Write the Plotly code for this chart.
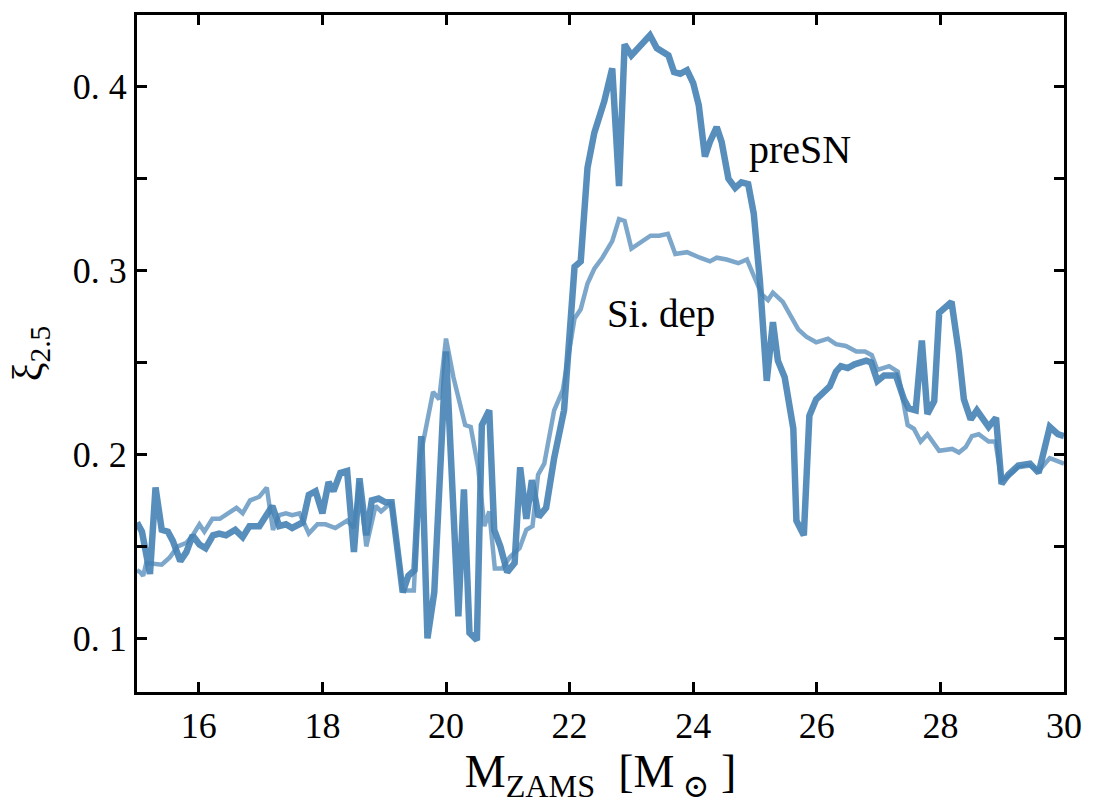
import plotly.graph_objects as go

# Compactness xi_2.5 versus ZAMS mass, at Si depletion and pre-supernova
mass_presn = [15.00, 15.08, 15.21, 15.30, 15.40, 15.50, 15.58, 15.70, 15.80, 15.90,
              16.01, 16.11, 16.23, 16.33, 16.44, 16.59, 16.71, 16.82, 16.98, 17.09,
              17.19, 17.30, 17.41, 17.51, 17.68, 17.78, 17.89, 18.00, 18.10, 18.18,
              18.29, 18.40, 18.51, 18.60, 18.71, 18.80, 18.91, 19.02, 19.12, 19.30,
              19.39, 19.49, 19.60, 19.70, 19.81, 20.00, 20.20, 20.29, 20.38, 20.50,
              20.58, 20.70, 20.78, 20.88, 20.99, 21.11, 21.20, 21.30, 21.39, 21.50,
              21.62, 21.75, 21.91, 22.08, 22.18, 22.29, 22.40, 22.56, 22.69, 22.80,
              22.89, 23.00, 23.20, 23.30, 23.41, 23.60, 23.69, 23.79, 23.90, 24.00,
              24.09, 24.19, 24.27, 24.38, 24.46, 24.57, 24.68, 24.78, 24.89, 24.98,
              25.08, 25.19, 25.29, 25.37, 25.48, 25.62, 25.67, 25.79, 25.88, 25.99,
              26.21, 26.31, 26.39, 26.50, 26.61, 26.80, 26.88, 26.98, 27.09, 27.28,
              27.41, 27.49, 27.60, 27.70, 27.79, 27.90, 27.98, 28.18, 28.30, 28.38,
              28.49, 28.59, 28.78, 28.90, 28.99, 29.10, 29.26, 29.45, 29.59, 29.77,
              29.90, 30.00]
xi_presn = [0.163, 0.158, 0.135, 0.182, 0.159, 0.158, 0.153, 0.142, 0.147, 0.156,
            0.151, 0.149, 0.156, 0.157, 0.156, 0.159, 0.155, 0.161, 0.161, 0.166,
            0.172, 0.161, 0.162, 0.160, 0.163, 0.178, 0.180, 0.168, 0.185, 0.180,
            0.190, 0.191, 0.147, 0.187, 0.156, 0.175, 0.176, 0.174, 0.174, 0.125,
            0.134, 0.137, 0.210, 0.100, 0.125, 0.256, 0.112, 0.181, 0.103, 0.099,
            0.216, 0.224, 0.159, 0.150, 0.136, 0.141, 0.193, 0.165, 0.186, 0.166,
            0.171, 0.198, 0.224, 0.302, 0.305, 0.356, 0.375, 0.392, 0.410, 0.346,
            0.423, 0.417, 0.424, 0.428, 0.421, 0.417, 0.408, 0.407, 0.409, 0.402,
            0.390, 0.362, 0.370, 0.378, 0.370, 0.350, 0.345, 0.348, 0.347, 0.331,
            0.294, 0.240, 0.272, 0.251, 0.242, 0.214, 0.164, 0.156, 0.221, 0.230,
            0.237, 0.245, 0.248, 0.247, 0.249, 0.251, 0.250, 0.240, 0.243, 0.243,
            0.230, 0.225, 0.224, 0.262, 0.222, 0.229, 0.277, 0.283, 0.255, 0.230,
            0.219, 0.224, 0.215, 0.220, 0.184, 0.189, 0.194, 0.195, 0.190, 0.215,
            0.211, 0.210]

mass_sidep = [15.00, 15.05, 15.10, 15.15, 15.40, 15.53, 15.66, 15.80, 15.90, 16.01,
              16.09, 16.22, 16.34, 16.50, 16.61, 16.71, 16.83, 16.98, 17.10, 17.20,
              17.30, 17.41, 17.51, 17.63, 17.78, 17.92, 18.05, 18.21, 18.40, 18.51,
              18.60, 18.71, 18.86, 18.95, 19.05, 19.12, 19.30, 19.48, 19.58, 19.79,
              19.89, 20.00, 20.12, 20.31, 20.40, 20.52, 20.62, 20.70, 20.79, 20.91,
              21.03, 21.19, 21.30, 21.40, 21.49, 21.59, 21.75, 21.89, 22.08, 22.18,
              22.29, 22.40, 22.53, 22.69, 22.80, 22.89, 23.00, 23.18, 23.31, 23.45,
              23.59, 23.71, 23.90, 24.11, 24.27, 24.38, 24.54, 24.73, 24.87, 24.97,
              25.11, 25.21, 25.29, 25.45, 25.56, 25.70, 25.83, 25.99, 26.18, 26.31,
              26.47, 26.64, 26.78, 26.89, 26.98, 27.17, 27.31, 27.47, 27.57, 27.68,
              27.79, 27.98, 28.19, 28.30, 28.41, 28.51, 28.62, 28.78, 28.89, 28.99,
              29.10, 29.26, 29.45, 29.59, 29.77, 29.90, 30.00]
xi_sidep = [0.137, 0.136, 0.134, 0.141, 0.140, 0.144, 0.150, 0.152, 0.156, 0.162,
            0.158, 0.165, 0.165, 0.169, 0.171, 0.168, 0.175, 0.177, 0.182, 0.159,
            0.167, 0.168, 0.167, 0.168, 0.157, 0.162, 0.162, 0.160, 0.164, 0.160,
            0.185, 0.150, 0.172, 0.169, 0.172, 0.174, 0.126, 0.126, 0.198, 0.234,
            0.230, 0.263, 0.242, 0.216, 0.215, 0.193, 0.161, 0.169, 0.138, 0.138,
            0.144, 0.149, 0.159, 0.161, 0.189, 0.195, 0.224, 0.235, 0.274, 0.279,
            0.293, 0.301, 0.307, 0.316, 0.328, 0.327, 0.312, 0.316, 0.319, 0.319,
            0.320, 0.309, 0.310, 0.307, 0.305, 0.307, 0.306, 0.304, 0.306, 0.298,
            0.287, 0.284, 0.288, 0.283, 0.276, 0.268, 0.264, 0.261, 0.263, 0.260,
            0.259, 0.256, 0.256, 0.254, 0.246, 0.248, 0.245, 0.216, 0.214, 0.207,
            0.211, 0.202, 0.203, 0.201, 0.204, 0.210, 0.211, 0.207, 0.207, 0.186,
            0.188, 0.193, 0.194, 0.191, 0.198, 0.196, 0.195]

x_ticks = [16, 18, 20, 22, 24, 26, 28, 30]
x_tick_text = ["16", "18", "20", "22", "24", "26", "28", "30"]
y_ticks = [0.10, 0.15, 0.20, 0.25, 0.30, 0.35, 0.40]
y_tick_text = ["0. 1", "", "0. 2", "", "0. 3", "", "0. 4"]

SERIF = "Liberation Serif, DejaVu Serif, serif"
NB = "\u00a0"

fig = go.Figure()
fig.add_trace(go.Scatter(
    x=mass_sidep, y=xi_sidep, mode="lines", name="Si. dep",
    line=dict(color="rgba(70,130,180,0.7)", width=4.5),
))
fig.add_trace(go.Scatter(
    x=mass_presn, y=xi_presn, mode="lines", name="preSN",
    line=dict(color="rgba(70,130,180,0.9)", width=6.5),
))

fig.add_annotation(x=25.73, y=0.366, text="preSN", showarrow=False,
                   font=dict(family=SERIF, size=40, color="black"))
fig.add_annotation(x=23.48, y=0.2766, text="Si." + NB + "dep", showarrow=False,
                   font=dict(family=SERIF, size=39, color="black"))

axis_common = dict(
    showgrid=False, zeroline=False, showline=True, linecolor="black", linewidth=3,
    mirror="ticks", ticks="inside", ticklen=10, tickwidth=2.5, tickcolor="black",
    tickfont=dict(family=SERIF, size=36, color="black"),
)

fig.update_layout(
    width=1094, height=809,
    margin=dict(l=137, r=25, t=12, b=117),
    paper_bgcolor="white", plot_bgcolor="white",
    showlegend=False,
    xaxis=dict(range=[15, 30], tickmode="array", tickvals=x_ticks, ticktext=x_tick_text,
               title=dict(text="M<sub>ZAMS</sub>" + NB + NB + "[M<sub>" + NB + "\u2299</sub>" + NB + "]",
                          font=dict(family=SERIF, size=46, color="black"), standoff=10),
               **axis_common),
    yaxis=dict(range=[0.0708, 0.4390], tickmode="array", tickvals=y_ticks, ticktext=y_tick_text,
               title=dict(text="\u03be<sub>2.5</sub>",
                          font=dict(family=SERIF, size=42, color="black"), standoff=18),
               **axis_common),
)

fig.write_html("out.html")
